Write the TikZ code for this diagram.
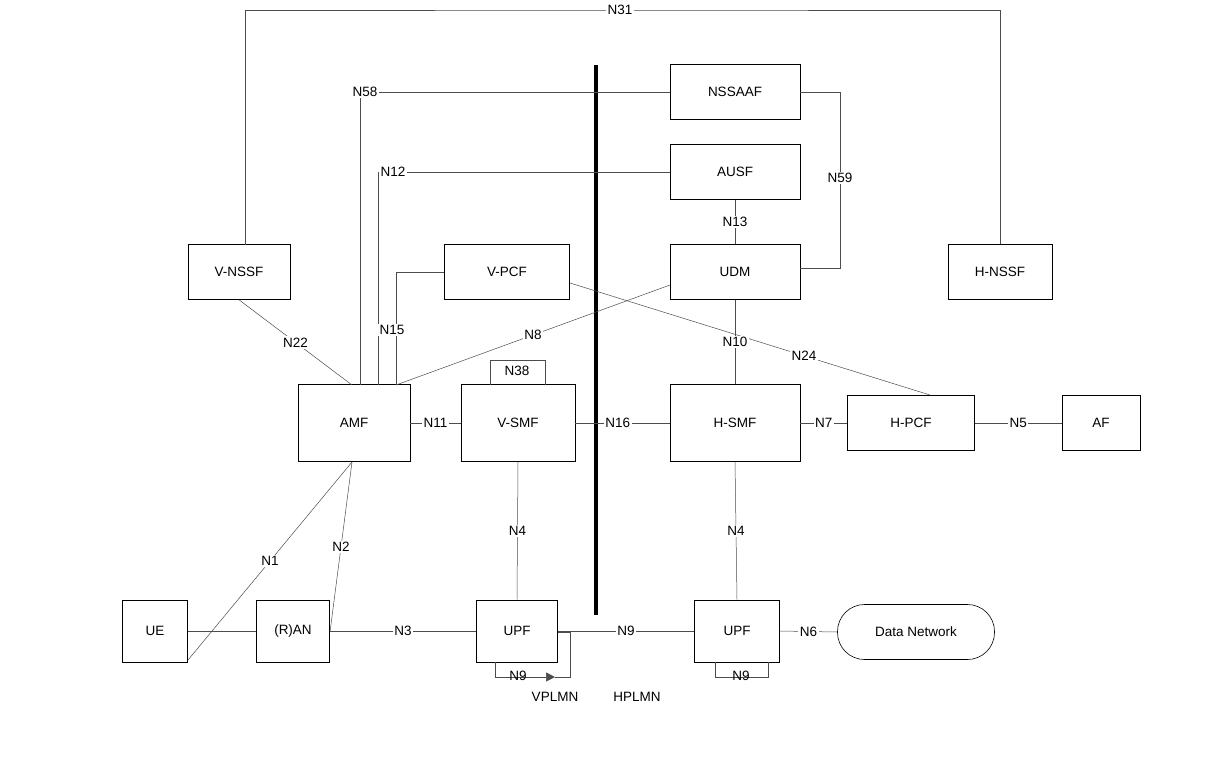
\documentclass[tikz,border=0pt]{standalone}
\usepackage{fontspec}
\setmainfont{Liberation Sans}
\usetikzlibrary{arrows.meta}
\begin{document}
\begin{tikzpicture}[x=1pt,y=-1pt,
  ln/.style={draw=black!70,line width=0.5pt},
  lab/.style={fill=white,inner sep=1.5pt,font=\fontsize{13.5}{16}\selectfont},
  every node/.append style={font=\fontsize{13.5}{16}\selectfont}]
\useasboundingbox (0,0) rectangle (1232,756);
\tikzset{B/.style args={#1/#2}{draw,line width=0.6pt,minimum width=#1,minimum height=#2,inner sep=0pt}}
\node[B=130/55] (nssaaf) at (735,92) {NSSAAF};
\node[B=130/55] (ausf) at (735,172) {AUSF};
\node[B=130/55] (udm) at (735,272) {UDM};
\node[B=104/55] (hnssf) at (1000,272) {H-NSSF};
\node[B=102/55] (vnssf) at (239,272) {V-NSSF};
\node[B=125/55] (vpcf) at (507,272) {V-PCF};
\node[B=112/77] (amf) at (354,423) {AMF};
\node[B=114/77] (vsmf) at (518,423) {V-SMF};
\node[B=130/77] (hsmf) at (735,423) {H-SMF};
\node[B=127/55] (hpcf) at (911,423) {H-PCF};
\node[B=78/55] (af) at (1101,423) {AF};
\node[B=65/62] (ue) at (155,631) {UE};
\node[B=73/62] (ran) at (293,631) {(R)AN};
\node[B=81/62] (upfv) at (517,631) {UPF};
\node[B=85/62] (upfh) at (737,631) {UPF};
\node[draw,line width=0.6pt,rounded corners=27pt,minimum width=157,minimum height=55,inner sep=0pt] (dn) at (916,632) {Data Network};
\draw[line width=4pt] (596,65) -- (596,615);
\coordinate (t31) at (245,245);
\draw[ln] (t31) |- (620,10) node[lab] {N31} -| (hnssf.north);
\coordinate (a58) at (360,385);
\draw[ln] (a58) |- (nssaaf.west);
\node[lab] at (365,92) {N58};
\coordinate (a12) at (378,385);
\draw[ln] (a12) |- (ausf.west);
\node[lab] at (393,172) {N12};
\coordinate (a15) at (396,385);
\draw[ln] (a15) |- (vpcf.west);
\node[lab] at (392,330) {N15};
\draw[ln] (nssaaf.east) -- (840,92) -- (840,268) -- (800,268);
\node[lab] at (840,178) {N59};
\draw[ln] (ausf.south) -- (udm.north) node[lab,midway] {N13};
\coordinate (a22) at (352,385);
\draw[ln] (vnssf.south) -- (a22) node[lab,pos=0.5] {N22};
\draw[ln] (a15) -- (670,285) node[lab,pos=0.5] {N8};
\coordinate (p24) at (930,395);
\draw[ln] (570,283) -- (p24) node[lab,pos=0.65] {N24};
\draw[ln] (udm.south) -- (hsmf.north) node[lab,midway] {N10};
\draw[ln] (490,385) -- (490,360) -- (545,360) -- (545,385);
\node at (517,371) {N38};
\draw[ln] (amf.east) -- (vsmf.west) node[lab,midway] {N11};
\draw[ln] (vsmf.east) -- (hsmf.west) node[lab,pos=0.45] {N16};
\draw[ln] (hsmf.east) -- (hpcf.west) node[lab,midway] {N7};
\draw[ln] (hpcf.east) -- (af.west) node[lab,midway] {N5};
\draw[ln] (vsmf.south) -- (upfv.north) node[lab,midway] {N4};
\draw[ln] (hsmf.south) -- (upfh.north) node[lab,midway] {N4};
\coordinate (ueR) at (188,660);
\coordinate (amfB) at (352,462);
\draw[ln] (ueR) -- (amfB) node[lab,pos=0.5] {N1};
\draw[ln] (330,632) -- (amfB) node[lab,pos=0.5] {N2};
\draw[ln] (ue.east) -- (ran.west);
\draw[ln] (ran.east) -- (upfv.west) node[lab,midway] {N3};
\draw[ln] (upfv.east) -- (upfh.west) node[lab,midway] {N9};
\draw[ln] (upfh.east) -- (dn.west) node[lab,midway] {N6};
\draw[ln,-{Triangle[length=9pt,width=9pt]}] (495,662) -- (495,677) -- (555,677);
\draw[ln] (558,632) -- (570,632) -- (570,677) -- (555,677);
\node at (518,676) {N9};
\draw[ln] (715,662) -- (715,677) -- (768,677) -- (768,662);
\node at (741,676) {N9};
\node at (555,697) {VPLMN};
\node at (637,697) {HPLMN};
\end{tikzpicture}
\end{document}
